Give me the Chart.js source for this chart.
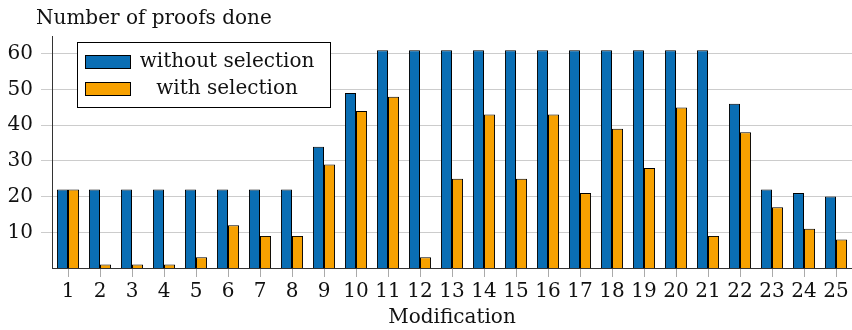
<!DOCTYPE html>
<html>
<head>
<meta charset="utf-8">
<script src="https://cdn.jsdelivr.net/npm/chart.js@4.4.1/dist/chart.umd.min.js"></script>
<style>
  body { margin: 0; background: #fff; }
  #wrap { width: 852px; height: 330px; }
</style>
</head>
<body>
<div id="wrap"><canvas id="myChart" width="852" height="330"></canvas></div>
<script>
// data
const modifications = ['1','2','3','4','5','6','7','8','9','10','11','12','13','14','15','16','17','18','19','20','21','22','23','24','25'];
const withoutSelection = [22,22,22,22,22,22,22,22,34,49,61,61,61,61,61,61,61,61,61,61,61,46,22,21,20];
const withSelection = [22,1,1,1,3,12,9,9,29,44,48,3,25,43,25,43,21,39,28,45,9,38,17,11,8];
const yTicks = [10,20,30,40,50,60];

const FONT = '"DejaVu Serif", serif';
const blue = '#0a6eb4';
const orange = '#f7a100';
const ink = '#111';

// legend box inside the plot + title, drawn by hand
const boxLegend = {
  id: 'boxLegend',
  afterDraw(chart) {
    const c = chart.ctx;
    const a = chart.chartArea;
    c.save();
    c.font = '20px ' + FONT;
    c.fillStyle = ink;
    c.textBaseline = 'alphabetic';
    c.textAlign = 'left';
    c.fillText('Number of proofs done', a.left - 16, 24);

    const x0 = a.left + 25, y0 = 42, w = 253, h = 65;
    c.fillStyle = '#fff';
    c.fillRect(x0, y0, w, h);
    c.strokeStyle = '#000';
    c.lineWidth = 1;
    c.strokeRect(x0 + 0.5, y0 + 0.5, w, h);
    chart.data.datasets.forEach((ds, i) => {
      const yy = y0 + 13 + i * 27;
      c.fillStyle = ds.backgroundColor;
      c.fillRect(x0 + 8, yy, 45, 13);
      c.strokeStyle = '#000';
      c.strokeRect(x0 + 8.5, yy + 0.5, 45, 13);
      c.fillStyle = ink;
      c.textAlign = 'center';
      c.fillText(ds.label, x0 + 150, yy + 12);
    });
    c.restore();
  }
};

new Chart(document.getElementById('myChart'), {
  type: 'bar',
  data: {
    labels: modifications,
    datasets: [
      { label: 'without selection', data: withoutSelection, backgroundColor: blue, borderColor: '#000', borderWidth: 1 },
      { label: 'with selection', data: withSelection, backgroundColor: orange, borderColor: '#000', borderWidth: 1 }
    ]
  },
  options: {
    responsive: false,
    animation: false,
    layout: { padding: { top: 36, right: 0, left: 0, bottom: 0 } },
    datasets: { bar: { categoryPercentage: 0.69, barPercentage: 1 } },
    plugins: {
      legend: { display: false },
      tooltip: { enabled: false }
    },
    scales: {
      x: {
        offset: true,
        grid: { display: true, offset: false, drawOnChartArea: false, drawTicks: true, tickLength: 9, color: '#aaa' },
        border: { color: '#333' },
        ticks: { color: ink, font: { family: FONT, size: 20 }, padding: 3, maxRotation: 0 },
        title: { display: true, text: 'Modification', color: ink, font: { family: FONT, size: 20 }, padding: { top: 0, bottom: 0 } },
        afterFit(axis) { axis.height = 62; }
      },
      y: {
        min: 0,
        max: 65,
        afterBuildTicks(axis) { axis.ticks = yTicks.map(v => ({ value: v })); },
        grid: { color: '#ccc', tickLength: 11 },
        border: { color: '#333' },
        ticks: { color: ink, font: { family: FONT, size: 20 }, padding: 8 },
        afterFit(axis) { axis.width = 52; }
      }
    }
  },
  plugins: [boxLegend]
});
</script>
</body>
</html>
